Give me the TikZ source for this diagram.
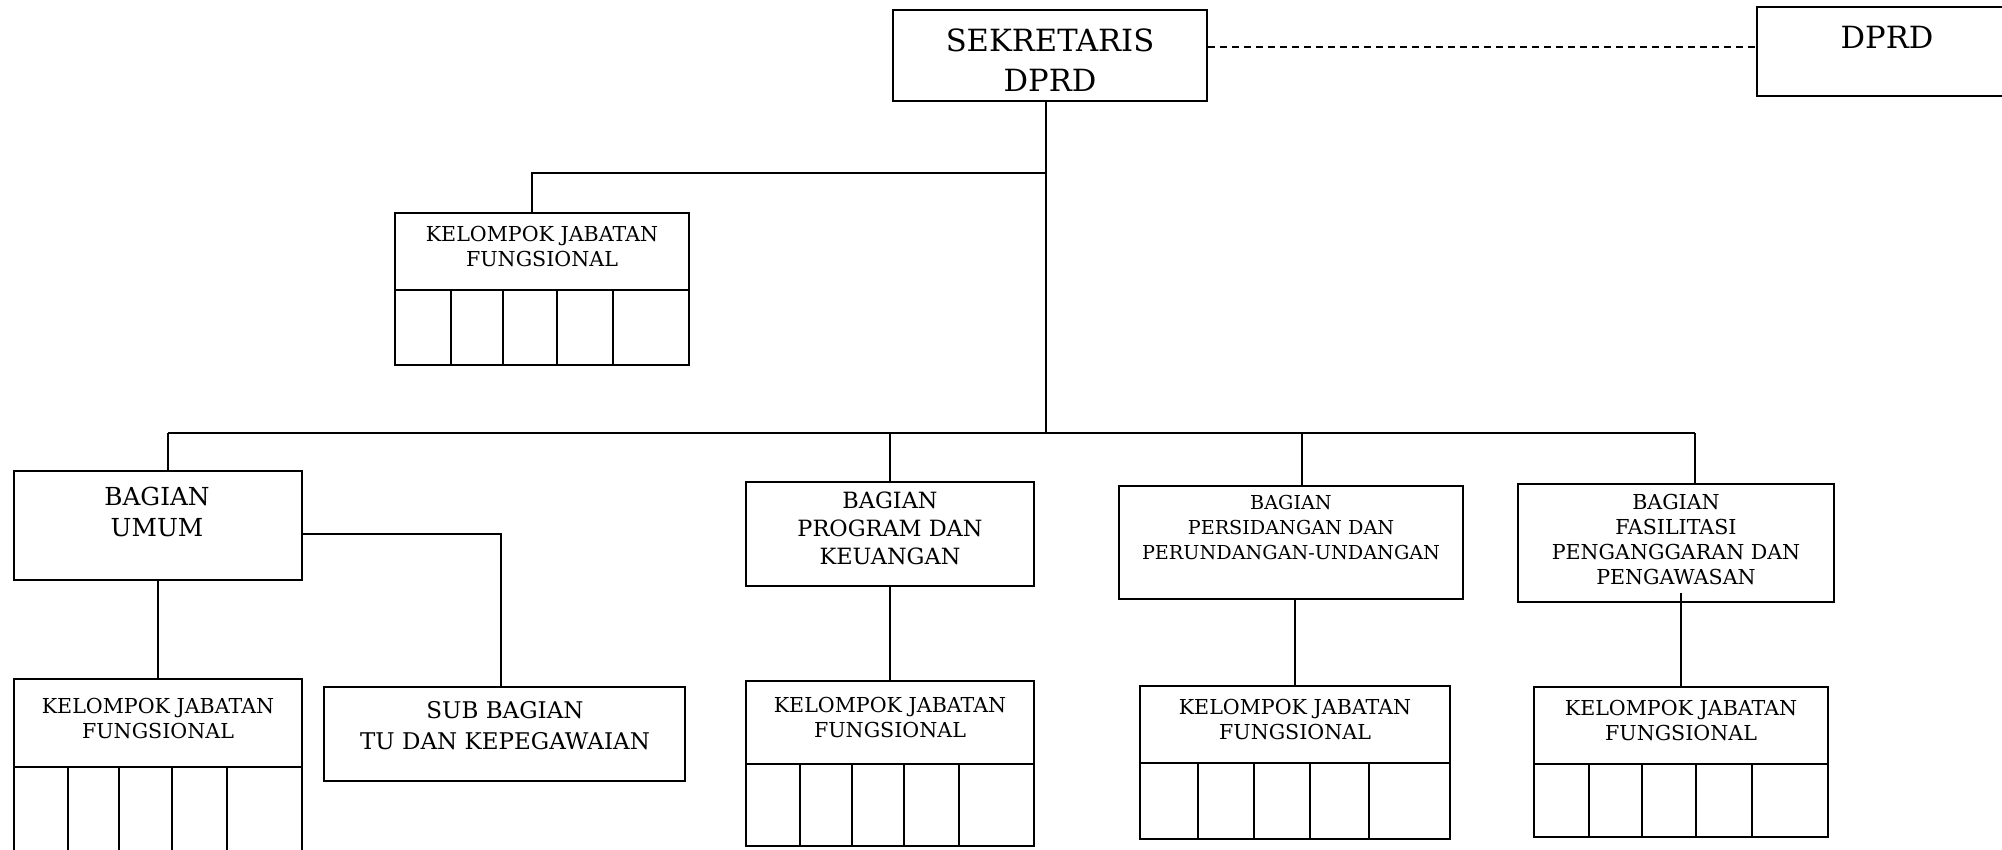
\documentclass[tikz,border=0pt]{standalone}
\usepackage{fontspec}
\setmainfont{DejaVu Serif}
\usetikzlibrary{fit,calc}
\tikzset{
  boxst/.style={draw, inner sep=0pt, line width=1.1pt},
  txt/.style={align=center, inner sep=0pt},
  tS/.style={font=\fontsize{10.3}{12.5}\selectfont},
  tR/.style={font=\fontsize{9.6}{12.5}\selectfont},
  tP/.style={font=\fontsize{11.2}{14}\selectfont},
  tU/.style={font=\fontsize{12.4}{15.5}\selectfont},
  tB/.style={font=\fontsize{11.5}{15.5}\selectfont},
  tL/.style={font=\fontsize{15.3}{20}\selectfont},
  cellline/.style={line width=1.1pt},
  dashline/.style={line width=1pt, dash pattern=on 3.5pt off 2.5pt},
}
\newcommand\kjfgroup[7]{%
  \node[boxst, fit={(#2,#4) (#3,#5)}] (#1h) {};
  \node[boxst, fit={(#2,#5) (#3,#6)}] (#1c) {};
  \foreach \cx in {#7} \draw[cellline] (\cx,#5) -- (\cx,#6);
  \node[txt,tS] at ([yshift=2.5pt]#1h.center) {KELOMPOK JABATAN\\FUNGSIONAL};
}
\begin{document}
\begin{tikzpicture}[x=0.5pt,y=-0.5pt,line width=1pt]
\useasboundingbox (0,0) rectangle (2002,850);
% boxes
\node[boxst, fit={(893,10) (1207,101)}] (sek) {};
\node[txt,tL] at (1050,60) {SEKRETARIS\\DPRD};
\node[boxst, fit={(1757,7) (2006,96)}] (dprd) {};
\node[txt,tL] at (1887,37) {DPRD};
\kjfgroup{kA}{395}{689}{213}{290}{365}{451,503,557,613}
\node[boxst, fit={(14,471) (302,580)}] (umum) {};
\node[txt,tU] at (157,512) {BAGIAN\\UMUM};
\kjfgroup{kB}{14}{302}{679}{767}{860}{68,119,172,227}
\node[boxst, fit={(324,687) (685,781)}] (sub) {};
\node[txt,tB] at (505,726) {SUB BAGIAN\\TU DAN KEPEGAWAIAN};
\node[boxst, fit={(746,482) (1034,586)}] (prog) {};
\node[txt,tP] at (890,528) {BAGIAN\\PROGRAM DAN\\KEUANGAN};
\kjfgroup{kC}{746}{1034}{681}{764}{846}{800,852,904,959}
\node[boxst, fit={(1119,486) (1463,599)}] (pers) {};
\node[txt,tR] at (1291,528) {BAGIAN\\PERSIDANGAN DAN\\PERUNDANGAN-UNDANGAN};
\kjfgroup{kD}{1140}{1450}{686}{763}{839}{1198,1254,1310,1369}
\node[boxst, fit={(1518,484) (1834,602)}] (fas) {};
\node[txt,tS] at (1676,539) {BAGIAN\\FASILITASI\\PENGANGGARAN DAN\\PENGAWASAN};
\kjfgroup{kE}{1534}{1828}{687}{764}{837}{1589,1642,1696,1752}
% connectors
\coordinate (v) at (1046,433);
\coordinate (d1) at (168,433);
\coordinate (d3) at (1302,433);
\coordinate (d4) at (1695,433);
\coordinate (br) at (532,173);
\coordinate (sb) at (501,534);
\draw (v |- sek.south) -- (v);
\draw (br -| v) -- (br) -- (br |- kAh.north);
\draw (d1) -- (d4);
\draw (d1) -- (d1 |- umum.north);
\draw (prog.north |- v) -- (prog.north);
\draw (d3) -- (d3 |- pers.north);
\draw (d4) -- (d4 |- fas.north);
\draw (umum.south) -- (kBh.north);
\draw (umum.east |- sb) -- (sb) -- (sb |- sub.north);
\draw (prog.south) -- (kCh.north);
\draw (kDh.north) -- (kDh.north |- pers.south);
\draw (kEh.north) -- ([yshift=5pt]kEh.north |- fas.south);
\draw[dashline] ([yshift=4.25pt]sek.east) -- ([yshift=4.25pt]sek.east -| dprd.west);
\end{tikzpicture}
\end{document}
